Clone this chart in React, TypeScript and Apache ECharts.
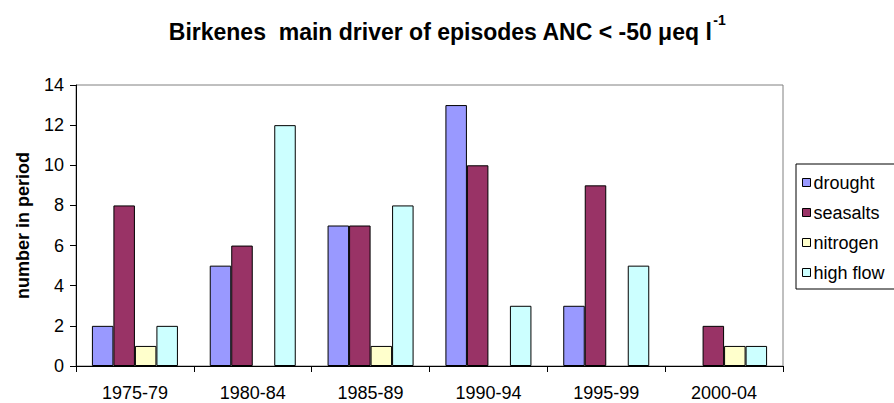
import React, { useEffect, useRef } from "react";
import * as echarts from "echarts";

const categories = ["1975-79", "1980-84", "1985-89", "1990-94", "1995-99", "2000-04"];
const drought = [2, 5, 7, 13, 3, 0];
const seasalts = [8, 6, 7, 10, 9, 2];
const nitrogen = [1, 0, 1, 0, 0, 1];
const highFlow = [2, 12, 8, 3, 5, 1];
const seriesNames = ["drought", "seasalts", "nitrogen", "high flow"];
const seriesColors = ["#9999FF", "#993366", "#FFFFCC", "#CCFFFF"];

const FONT = "Liberation Sans, Arial, sans-serif";

export default function App() {
  const ref = useRef<HTMLDivElement>(null);
  useEffect(() => {
    const chart = echarts.init(ref.current!, null, { renderer: "svg" });
    const values = [drought, seasalts, nitrogen, highFlow];
    chart.setOption({
      animation: false,
      backgroundColor: "#ffffff",
      title: {
        text: "{t|Birkenes  main driver of episodes ANC < -50 μeq l}{s|-1}",
        left: "center",
        top: 8,
        textStyle: {
          rich: {
            t: { fontFamily: FONT, fontSize: 23, fontWeight: "bold", color: "#000", lineHeight: 30, verticalAlign: "bottom" },
            s: { fontFamily: FONT, fontSize: 14, fontWeight: "bold", color: "#000", lineHeight: 30, verticalAlign: "top", padding: [0, 0, 10, 1] },
          },
        },
      },
      legend: {
        orient: "vertical",
        left: 796,
        top: 164,
        width: 120,
        padding: [8, 30, 6, 6],
        itemGap: 9,
        itemWidth: 8,
        itemHeight: 8,
        borderColor: "#000",
        borderWidth: 1,
        borderRadius: 0,
        icon: "rect",
        itemStyle: { borderColor: "#000", borderWidth: 1 },
        textStyle: { fontFamily: FONT, fontSize: 18, color: "#000", padding: [0, 0, 0, -2], lineHeight: 21 },
        data: seriesNames,
      },
      grid: {
        left: 76,
        right: 111,
        top: 85,
        bottom: 37,
        show: true,
        borderColor: "#808080",
        borderWidth: 1,
      },
      xAxis: {
        type: "category",
        data: categories,
        axisLine: { lineStyle: { color: "#000", width: 1 } },
        axisTick: { show: true, length: 6, lineStyle: { color: "#000" } },
        axisLabel: { fontFamily: FONT, fontSize: 18, color: "#000", margin: 18 },
        splitLine: { show: false },
      },
      yAxis: {
        type: "value",
        min: 0,
        max: 14,
        interval: 2,
        name: "number in period",
        nameLocation: "middle",
        nameGap: 44,
        nameTextStyle: { fontFamily: FONT, fontSize: 18, fontWeight: "bold", color: "#000" },
        axisLine: { show: true, lineStyle: { color: "#000", width: 1 } },
        axisTick: { show: true, length: 6, lineStyle: { color: "#000" } },
        axisLabel: { fontFamily: FONT, fontSize: 18, color: "#000", margin: 12 },
        splitLine: { show: false },
      },
      series: seriesNames.map((name, i) => ({
        name,
        type: "bar",
        data: values[i].map((v) => (v === 0 ? "-" : v)),
        barGap: "0%",
        barCategoryGap: "27%",
        itemStyle: { color: seriesColors[i], borderColor: "#000", borderWidth: 1 },
      })),
    });
    return () => chart.dispose();
  }, []);
  return <div ref={ref} style={{ width: 894, height: 403, position: "absolute", left: 0, top: 0 }} />;
}
